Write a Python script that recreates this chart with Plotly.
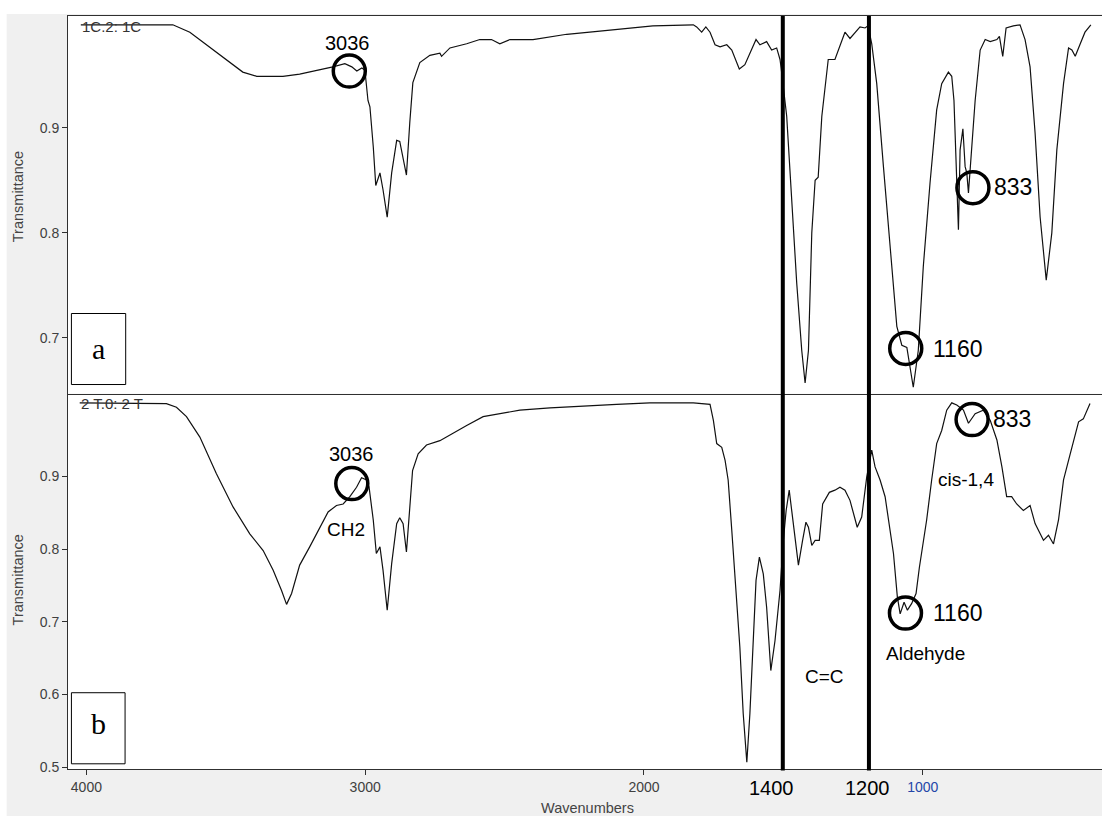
import plotly.graph_objects as go

# ---- FTIR spectrum (a): sample 1C ----
wn_a = [4020, 3690, 3629, 3558, 3496, 3439, 3389, 3295, 3235, 3163, 3116, 3073, 3048, 3030,
        3012, 3001, 2990, 2983, 2971, 2962, 2947, 2936, 2921, 2905, 2887, 2876, 2861, 2852,
        2840, 2829, 2804, 2768, 2732, 2726, 2696, 2636, 2589, 2547, 2517, 2481, 2398, 2277,
        2158, 2040, 1968, 1823, 1811, 1793, 1778, 1763, 1745, 1727, 1703, 1685, 1658, 1638,
        1620, 1598, 1584, 1560, 1542, 1524, 1512, 1508, 1488, 1470, 1452, 1434, 1422, 1410,
        1398, 1386, 1375, 1362, 1339, 1315, 1303, 1279, 1261, 1243, 1225, 1207, 1196, 1183,
        1165, 1141, 1117, 1093, 1075, 1057, 1034, 1016, 998, 974, 950, 932, 908, 896, 888,
        878, 872, 866, 856, 848, 842, 836, 824, 812, 794, 776, 758, 734, 725, 713, 701, 675,
        651, 633, 615, 597, 579, 557, 537, 519, 495, 477, 465, 453, 435, 418, 397]
tr_a = [0.998, 0.998, 0.991, 0.977, 0.965, 0.953, 0.949, 0.949, 0.951, 0.955, 0.958, 0.961,
        0.958, 0.954, 0.957, 0.955, 0.926, 0.920, 0.882, 0.845, 0.857, 0.841, 0.815, 0.857,
        0.888, 0.887, 0.869, 0.855, 0.905, 0.943, 0.962, 0.969, 0.971, 0.968, 0.976, 0.980,
        0.984, 0.984, 0.980, 0.984, 0.984, 0.989, 0.992, 0.995, 0.997, 0.998, 0.996, 0.991,
        0.996, 0.991, 0.979, 0.977, 0.979, 0.974, 0.956, 0.960, 0.971, 0.984, 0.979, 0.982,
        0.974, 0.976, 0.965, 0.957, 0.911, 0.831, 0.752, 0.688, 0.657, 0.688, 0.800, 0.850,
        0.853, 0.911, 0.965, 0.965, 0.974, 0.991, 0.985, 0.991, 0.996, 0.995, 0.997, 0.980,
        0.942, 0.863, 0.784, 0.711, 0.693, 0.691, 0.653, 0.688, 0.768, 0.847, 0.917, 0.942,
        0.953, 0.949, 0.926, 0.847, 0.803, 0.879, 0.899, 0.863, 0.857, 0.838, 0.879, 0.926,
        0.974, 0.984, 0.982, 0.984, 0.987, 0.968, 0.995, 0.997, 0.998, 0.984, 0.958, 0.895,
        0.815, 0.755, 0.800, 0.879, 0.942, 0.976, 0.974, 0.968, 0.980, 0.991, 0.998]

# ---- FTIR spectrum (b): sample 2T ----
wn_b = [4024, 3713, 3677, 3641, 3593, 3534, 3474, 3414, 3366, 3330, 3300, 3282, 3264, 3235,
        3199, 3163, 3133, 3103, 3079, 3055, 3031, 3013, 2995, 2986, 2971, 2960, 2947, 2936,
        2921, 2905, 2887, 2876, 2864, 2852, 2840, 2830, 2810, 2780, 2732, 2684, 2636, 2577,
        2517, 2445, 2337, 2218, 2098, 1979, 1823, 1763, 1751, 1739, 1721, 1709, 1698, 1685,
        1673, 1656, 1644, 1631, 1620, 1610, 1598, 1586, 1572, 1560, 1545, 1530, 1512, 1500,
        1490, 1479, 1466, 1446, 1431, 1419, 1410, 1398, 1386, 1371, 1359, 1335, 1315, 1297,
        1279, 1261, 1235, 1219, 1201, 1183, 1171, 1153, 1135, 1117, 1105, 1091, 1081, 1067,
        1055, 1040, 1024, 1012, 1000, 986, 968, 950, 932, 914, 896, 878, 854, 836, 812, 783,
        758, 734, 716, 699, 681, 663, 639, 615, 597, 579, 567, 549, 531, 513, 495, 471, 441,
        424, 400]
tr_b = [1.001, 1.000, 0.995, 0.982, 0.954, 0.904, 0.858, 0.821, 0.798, 0.771, 0.743, 0.724,
        0.739, 0.778, 0.803, 0.830, 0.851, 0.860, 0.862, 0.872, 0.885, 0.898, 0.895, 0.885,
        0.840, 0.794, 0.803, 0.771, 0.716, 0.780, 0.835, 0.843, 0.835, 0.796, 0.858, 0.908,
        0.931, 0.943, 0.949, 0.960, 0.970, 0.982, 0.986, 0.991, 0.994, 0.997, 0.999, 1.001,
        1.001, 0.999, 0.977, 0.945, 0.940, 0.922, 0.895, 0.826, 0.757, 0.665, 0.574, 0.507,
        0.574, 0.665, 0.757, 0.789, 0.766, 0.720, 0.633, 0.674, 0.743, 0.812, 0.853, 0.881,
        0.840, 0.778, 0.812, 0.837, 0.830, 0.805, 0.812, 0.812, 0.862, 0.878, 0.881, 0.885,
        0.881, 0.867, 0.830, 0.844, 0.899, 0.936, 0.913, 0.895, 0.872, 0.826, 0.794, 0.734,
        0.711, 0.727, 0.716, 0.725, 0.739, 0.775, 0.803, 0.840, 0.895, 0.945, 0.963, 0.991,
        1.001, 0.998, 0.991, 0.973, 0.986, 0.991, 0.977, 0.950, 0.913, 0.872, 0.872, 0.862,
        0.853, 0.860, 0.835, 0.821, 0.812, 0.819, 0.807, 0.840, 0.895, 0.931, 0.975, 0.979,
        1.000]

x_ticks = [4000, 3000, 2000, 1000]
band_lines = [1502, 1193]          # C=C region boundaries
band_labels = ["1400", "1200"]
band_label_x = [1543, 1198]

# circled peaks: (wavenumber, transmittance) per panel
circles_a = [(3057, 0.954), (820, 0.843), (1061, 0.690)]
circles_b = [(3048, 0.890), (823, 0.978), (1062, 0.712)]

# text labels: (text, wavenumber, transmittance, size)
labels_a = [("3036", 3062, 0.981, 20), ("833", 678, 0.844, 23), ("1160", 877, 0.689, 23)]
labels_b = [("3036", 3050, 0.931, 20), ("CH2", 3070, 0.8275, 19), ("833", 680, 0.979, 23),
            ("cis-1,4", 846, 0.896, 19), ("1160", 877, 0.712, 23),
            ("Aldehyde", 990, 0.6565, 19), ("C=C", 1354, 0.625, 19)]

FONT = "Liberation Sans, Arial, sans-serif"
AXCOL = "#303030"
TICKCOL = "#404040"
SPLIT = 0.4986

fig = go.Figure()
fig.add_trace(go.Scatter(x=wn_a, y=tr_a, mode="lines", xaxis="x2", yaxis="y2",
                         line=dict(color="#111111", width=1.2), showlegend=False))
fig.add_trace(go.Scatter(x=wn_b, y=tr_b, mode="lines", xaxis="x", yaxis="y",
                         line=dict(color="#111111", width=1.2), showlegend=False))

xr = [4066, 357]
common_x = dict(range=xr, showgrid=False, zeroline=False, showline=True, linecolor=AXCOL,
                linewidth=1)
fig.update_layout(
    width=1102, height=816,
    margin=dict(l=68, r=0, t=16, b=47),
    paper_bgcolor="#f0f0f0", plot_bgcolor="white",
    font=dict(family=FONT, color="black"),
    xaxis=dict(**common_x, anchor="y", domain=[0, 1], ticks="outside", ticklen=5,
               tickcolor=AXCOL, tickvals=x_ticks,
               ticktext=["4000", "3000", "2000", "<span style='color:#2446a8'>1000</span>"],
               tickfont=dict(size=14, color=TICKCOL, family=FONT)),
    xaxis2=dict(**common_x, anchor="y2", matches="x", showticklabels=False, mirror=True),
    yaxis=dict(domain=[0, SPLIT], range=[0.4977, 1.0138], showgrid=False, zeroline=False,
               showline=True, linecolor=AXCOL, linewidth=1, ticks="outside", ticklen=5,
               tickcolor=AXCOL, tickvals=[0.5, 0.6, 0.7, 0.8, 0.9],
               tickfont=dict(size=14, color=TICKCOL, family=FONT), anchor="x"),
    yaxis2=dict(domain=[SPLIT, 1], range=[0.647, 1.0064], showgrid=False, zeroline=False,
                showline=True, linecolor=AXCOL, linewidth=1, ticks="outside", ticklen=5,
                tickcolor=AXCOL, tickvals=[0.7, 0.8, 0.9],
                tickfont=dict(size=14, color=TICKCOL, family=FONT), anchor="x2"),
)

shapes = []
# white page strips around the grey panel
shapes.append(dict(type="rect", xref="paper", yref="paper", x0=-0.07, x1=1.01, y0=1.0027,
                   y1=1.03, fillcolor="white", line=dict(width=0), layer="below"))
shapes.append(dict(type="rect", xref="paper", yref="paper", x0=-0.07, x1=-0.0593, y0=-0.07,
                   y1=1.03, fillcolor="white", line=dict(width=0), layer="below"))
# band boundary lines through both panels
for bx in band_lines:
    shapes.append(dict(type="line", xref="x", yref="paper", x0=bx, x1=bx, y0=-0.002, y1=1,
                       line=dict(color="black", width=4)))
# circled peaks
for ax, pts in (("2", circles_a), ("", circles_b)):
    for cx, cy in pts:
        shapes.append(dict(type="circle", xref="x" + ax, yref="y" + ax, xsizemode="pixel",
                           ysizemode="pixel", xanchor=cx, yanchor=cy, x0=-16, x1=16,
                           y0=-16, y1=16, line=dict(color="black", width=3.5)))
# panel letter boxes
shapes.append(dict(type="rect", xref="paper", yref="paper", x0=0.0033, x1=0.0558,
                   y0=0.5106, y1=0.6049, fillcolor="white", line=dict(color="black", width=1)))
shapes.append(dict(type="rect", xref="paper", yref="paper", x0=0.0033, x1=0.0552,
                   y0=0.0069, y1=0.1013, fillcolor="white", line=dict(color="black", width=1)))
fig.update_layout(shapes=shapes)


def paper_text(text, x, y, size, color="black", family=FONT, xanchor="center", angle=0):
    return dict(text=text, x=x, y=y, xref="paper", yref="paper", xanchor=xanchor,
                yanchor="middle", textangle=angle, showarrow=False,
                font=dict(size=size, family=family, color=color))


ann = []
for ax, labs in (("2", labels_a), ("", labels_b)):
    for t, lx, ly, sz in labs:
        ann.append(dict(text=t, x=lx, y=ly, xref="x" + ax, yref="y" + ax, showarrow=False,
                        xanchor="center", yanchor="middle",
                        font=dict(size=sz, family=FONT, color="black")))
for t, bx in zip(band_labels, band_label_x):
    ann.append(dict(text=t, x=bx, y=-0.0246, xref="x", yref="paper", showarrow=False,
                    xanchor="center", yanchor="middle",
                    font=dict(size=20, family=FONT, color="black")))
ann.append(paper_text("Wavenumbers", 0.5028, -0.0512, 14.5, "#444444"))
for yc in (0.7602, 0.2513):
    ann.append(paper_text("Transmittance", -0.0487, yc, 14.5, "#444444", angle=-90))
ann.append(paper_text("1C.2: 1C", 0.0113, 0.9867, 15, "#333333", xanchor="left"))
ann.append(paper_text("2 T.0: 2 T", 0.0103, 0.4857, 15, "#333333", xanchor="left"))
SERIF = "Liberation Serif, Times New Roman, serif"
ann.append(paper_text("a", 0.0297, 0.5588, 30, family=SERIF))
ann.append(paper_text("b", 0.0297, 0.0601, 30, family=SERIF))
fig.update_layout(annotations=ann)

fig.write_html("out.html")
